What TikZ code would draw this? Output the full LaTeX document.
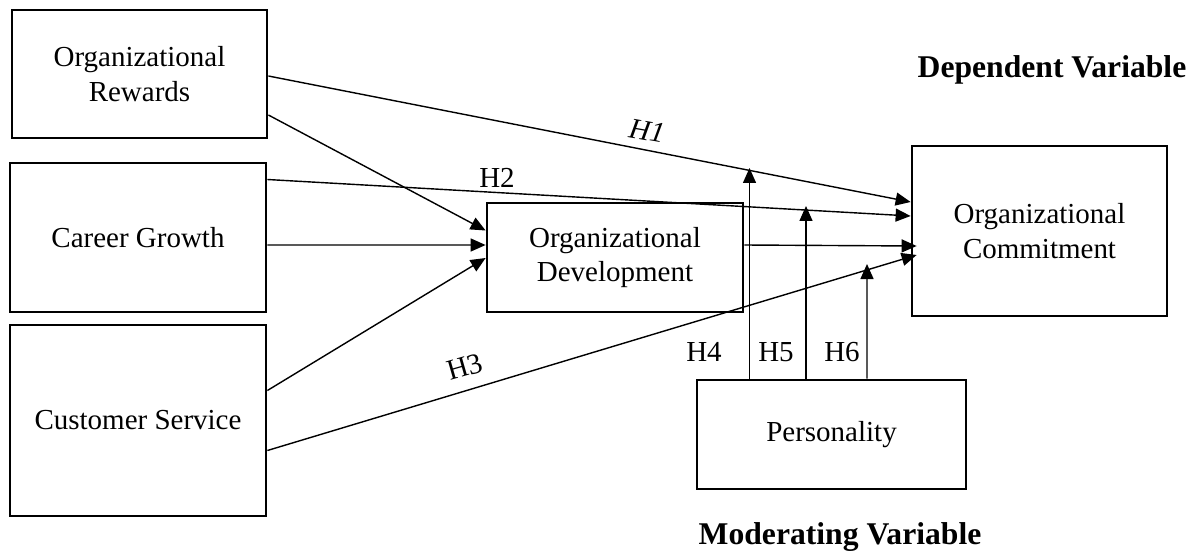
\documentclass[tikz,border=0pt]{standalone}
\usepackage{fontspec}
\setmainfont{Liberation Serif}
\usetikzlibrary{positioning,arrows.meta,calc}

\begin{document}
\begin{tikzpicture}[x=0.02cm, y=-0.02cm,
  box/.style={draw, line width=1.6pt, align=center, inner sep=2pt,
    font=\fontsize{16.5}{19.5}\selectfont},
  arr/.style={-{Triangle[length=0.3cm,width=0.26cm]}, line width=0.8pt},
  hyp/.style={inner sep=0pt, font=\fontsize{16.5}{19.5}\selectfont},
  head/.style={inner sep=0pt, font=\fontsize{18}{21}\selectfont\bfseries}]
  \useasboundingbox (0,0) rectangle (1202,554);

  % Independent variables
  \node[box, minimum width=5.1cm, minimum height=2.56cm] (rew) at (139.5,74) {Organizational\\Rewards};
  \node[box, minimum width=5.12cm, minimum height=2.98cm] (car) at (138,237.5) {Career Growth};
  \node[box, minimum width=5.12cm, minimum height=3.82cm] (cus) at (138,420.5) {Customer Service};

  % Mediator, dependent and moderator
  \node[box, minimum width=5.12cm, minimum height=2.18cm] (dev) at (615,257.5) {Organizational\\Development};
  \node[box, minimum width=5.1cm, minimum height=3.4cm] (com) at (1039.5,231) {Organizational\\Commitment};
  \node[box, minimum width=5.38cm, minimum height=2.18cm] (per) at (831.5,434.5) {Personality};

  \node[head] (deplab) at (1052,70) {Dependent Variable};
  \node[head] (modlab) at (840,537) {Moderating Variable};

  % Direct paths
  \draw[arr] ($(rew.east)+(0,2)$) -- ($(com.west)+(0,-29)$);
  \draw[arr] ($(car.east)+(0,-58)$) -- ($(com.west)+(0,-15)$);
  \draw[arr] ($(cus.east)+(0,30)$) -- ($(com.west)+(6,24)$);

  % Paths through development
  \draw[arr] ($(rew.east)+(0,41)$) -- ($(dev.west)+(0,-27)$);
  \draw[arr] ($(car.east)+(0,7.5)$) -- ($(dev.west)+(0,-12.5)$);
  \draw[arr] ($(cus.east)+(0,-30)$) -- ($(dev.west)+(0,0.5)$);
  \draw[arr] ($(dev.east)+(0,-12.5)$) -- ($(com.west)+(6,15)$);

  % Moderating paths
  \coordinate (h4b) at ($(per.north)+(-82,0)$);
  \coordinate (h5b) at ($(per.north)+(-25.5,0)$);
  \coordinate (h6b) at ($(per.north)+(35.5,0)$);
  \coordinate (h4t) at (749.5,168);
  \coordinate (h5t) at (806,206);
  \coordinate (h6t) at (867,264);
  \draw[arr] (h4b) -- (h4t);
  \draw[arr] (h5b) -- (h5t);
  \draw[arr] (h6b) -- (h6t);

  % Hypotheses
  \node[hyp, rotate=-10] (h1) at (647,131) {\itshape H1};
  \node[hyp] (h2) at (497,178) {H2};
  \node[hyp, rotate=16] (h3) at (465,367) {H3};
  \node[hyp] (h4) at (704,352) {H4};
  \node[hyp] (h5) at (776,352) {H5};
  \node[hyp] (h6) at (842,352) {H6};
\end{tikzpicture}
\end{document}
